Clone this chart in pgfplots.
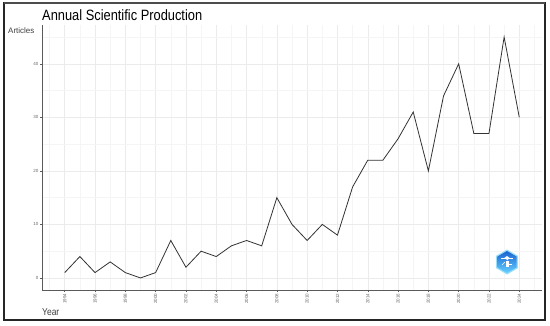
\documentclass[border=0pt]{standalone}
\usepackage{pgfplots}
\pgfplotsset{compat=1.18}
\usepackage{fontspec}
\setmainfont{Liberation Sans}
\pgfplotstableread{
year n
1994 1
1995 4
1996 1
1997 3
1998 1
1999 0
2000 1
2001 7
2002 2
2003 5
2004 4
2005 6
2006 7
2007 6
2008 15
2009 10
2010 7
2011 10
2012 8
2013 17
2014 22
2015 22
2016 26
2017 31
2018 20
2019 34
2020 40
2021 27
2022 27
2023 45
2024 30
}\prod
\definecolor{gridmaj}{HTML}{EBEBEB}
\definecolor{gridmin}{HTML}{F5F5F5}
\definecolor{axgray}{HTML}{5A5A5A}
\definecolor{lblgray}{HTML}{666666}
\begin{document}
\begin{tikzpicture}[x=1bp,y=1bp]
\fill[white] (0,0) rectangle (550,325);
\begin{axis}[at={(42bp,35bp)}, anchor=south west, scale only axis,
  width=500bp, height=265bp,
  xmin=1992.5, xmax=2025.5, ymin=-2.25, ymax=47.25,
  axis lines*=left,
  xtick={1994,1996,...,2024}, ytick={0,10,...,40},
  minor xtick={1993,1995,...,2025}, minor ytick={5,15,...,45},
  grid=both,
  major grid style={color=gridmaj, line width=0.5bp},
  minor grid style={color=gridmin, line width=0.4bp},
  tick align=outside, major tick length=2bp, minor tick length=0bp,
  axis line style={axgray, line width=0.8bp},
  tick style={axgray, line width=0.5bp},
  /pgf/number format/1000 sep={},
  /pgf/number format/assume math mode=true,
  x tick label style={rotate=90, anchor=east, inner sep=1.5bp,
    font=\fontsize{4.5}{5}\selectfont, text=lblgray},
  y tick label style={inner sep=1.5bp, font=\fontsize{4.5}{5}\selectfont, text=lblgray},
]
\addplot[color=black!80, line width=0.8bp, mark=none] table[x=year, y=n] {\prod};
\end{axis}
% titles
\node[anchor=base west, inner sep=0] at (42,305) {\scalebox{0.86}[1]{\fontsize{15}{18}\selectfont Annual Scientific Production}};
\node[anchor=base west, inner sep=0, text=black!75] at (8,292) {\fontsize{8}{9}\selectfont Articles};
\node[anchor=base west, inner sep=0, text=black!75] at (42,10) {\scalebox{0.85}[1]{\fontsize{10}{12}\selectfont Year}};
% logo
\begin{scope}[shift={(507,63)}]
\fill[color=cyan!40!white] (90:12.5) -- (150:12.5) -- (210:12.5) -- (270:12.5) -- (330:12.5) -- (30:12.5) -- cycle;
\shade[top color=blue!60!cyan!80!black!90, bottom color=cyan!70!blue!60] (90:11) -- (150:11) -- (210:11) -- (270:11) -- (330:11) -- (30:11) -- cycle;
\draw[white, line width=0.6bp] (-6,3.5) -- (6,3.5);
\fill[white] (0,6) -- (-3,3.8) -- (3,3.8) -- cycle;
\fill[white] (-1,-5) rectangle (1.5,1.5);
\fill[white] (0.3,2.8) circle (1.1);
\draw[white, line width=0.5bp] (-5,-3) -- (-2,0);
\draw[white, line width=0.5bp] (2,-2) -- (5,-2);
\end{scope}
% frame
\draw[line width=1.2bp, black!85] (4,5) rectangle (545,322);
\draw[line width=2bp, black!70] (4,322) -- (545,322);
\end{tikzpicture}
\end{document}
